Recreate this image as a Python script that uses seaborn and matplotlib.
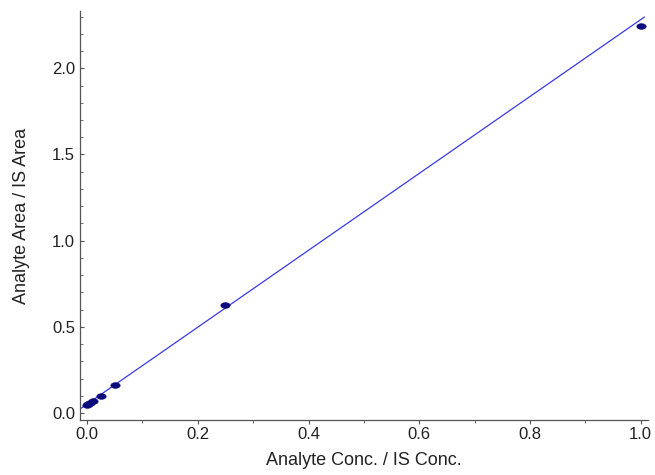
import numpy as np
import pandas as pd
import matplotlib
matplotlib.use("Agg")
import matplotlib.pyplot as plt
from matplotlib.path import Path
from matplotlib.ticker import MultipleLocator
import seaborn as sns

# Data
conc_ratio = [0.0, 0.0025, 0.005, 0.01, 0.025, 0.05, 0.25, 1.0]
area_ratio = [0.045, 0.050, 0.057, 0.068, 0.098, 0.162, 0.626, 2.248]
fit_slope = 2.23
fit_intercept = 0.052

df = pd.DataFrame({"x": conc_ratio, "y": area_ratio})

sns.set_theme(style="ticks")
plt.rcParams["font.family"] = ["Liberation Sans", "DejaVu Sans"]

fig = plt.figure(figsize=(6.55, 4.75), dpi=100)
ax = fig.add_axes([0.122, 0.116, 0.867, 0.86])

xmin, xmax = -0.013, 1.013
line_x = np.array([xmin, 1.007])
ax.plot(line_x, fit_intercept + fit_slope * line_x, color="#3a3ae6", lw=0.9, zorder=2)

# ellipse marker
t = np.linspace(0, 2 * np.pi, 40)
ell = Path(np.column_stack([np.cos(t), 0.6 * np.sin(t)]))
sns.scatterplot(data=df, x="x", y="y", marker=ell, s=45, color="#0a0a7a",
                edgecolor="#0a0a7a", linewidth=0.5, ax=ax, zorder=3)

ax.set_xlim(xmin, xmax)
ax.set_ylim(-0.04, 2.33)
ax.xaxis.set_minor_locator(MultipleLocator(0.1))
ax.yaxis.set_minor_locator(MultipleLocator(0.1))
ax.set_xticks(np.arange(0, 1.01, 0.2))
ax.set_xticklabels([f"{v:.1f}" for v in np.arange(0, 1.01, 0.2)])
ax.set_yticks(np.arange(0, 2.01, 0.5))
ax.set_yticklabels([f"{v:.1f}" for v in np.arange(0, 2.01, 0.5)])

for s in ["top", "right"]:
    ax.spines[s].set_visible(False)
for s in ["left", "bottom"]:
    ax.spines[s].set_color("#555555")
    ax.spines[s].set_linewidth(0.9)

ax.tick_params(axis="both", which="major", labelsize=12, colors="#555555",
               labelcolor="#222222", length=3, width=0.8)
ax.tick_params(axis="both", which="minor", colors="#555555", length=2, width=0.6)
ax.tick_params(axis="y", which="both", direction="in")
ax.tick_params(axis="x", which="both", direction="out", pad=2)

ax.set_xlabel("Analyte Conc. / IS Conc.", fontsize=13, color="#222222", labelpad=7)
ax.set_ylabel("Analyte Area / IS Area", fontsize=13, color="#222222", labelpad=16)

fig.savefig("out.png", dpi=100)
